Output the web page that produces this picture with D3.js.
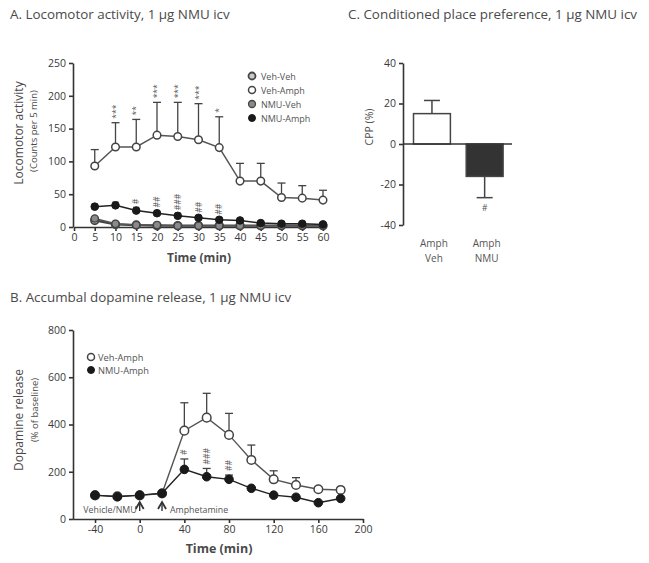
<!DOCTYPE html>
<html><head><meta charset="utf-8">
<script src="https://cdn.jsdelivr.net/npm/d3@7"></script>
<style>
body{margin:0;background:#fff;}
text{font-family:"Open Sans","Liberation Sans",Arial,sans-serif;}
.sig{opacity:0.99;}
</style></head>
<body><svg id="c" width="649" height="563"></svg>
<script>
// ---------- Panel A data ----------
const timeA = [5,10,15,20,25,30,35,40,45,50,55,60];
const vehVeh  = [10,4,3,2,2,2,2,2,2,2,2,2];
const vehAmph = [93,122,122,140,138,133,121,70,70,45,44,41];
const vehAmphErr = [25,37,42,50,52,55,47,27,27,22,19,15];
const nmuVeh  = [13,5,3,3,2,2,2,2,2,2,2,2];
const nmuAmph = [31,33,25,21,17,14,11,10,6,5,5,4];
const nmuAmphErr = [4,5,5,4,4,3,3,3,2,2,2,2];
const starsA = [null,"***","**","***","***","***","*",null,null,null,null,null];
const hashA  = [null,null,"#","##","###","##","##",null,null,null,null,null];
const ticksAx = [0,5,10,15,20,25,30,35,40,45,50,55,60];
const ticksAy = [0,50,100,150,200,250];
const legendA = ["Veh-Veh","Veh-Amph","NMU-Veh","NMU-Amph"];

// ---------- Panel B data ----------
const timeB = [-40,-20,0,20,40,60,80,100,120,140,160,180];
const vehAmphB = [100,96,100,108,374,429,356,250,168,144,126,123];
const vehAmphBErr = [0,0,0,0,118,103,91,63,36,31,10,8];
const nmuAmphB = [101,94,101,109,210,179,168,130,101,92,69,87];
const nmuAmphBErr = [0,0,0,0,44,35,18,0,0,0,0,0];
const hashB = [null,null,null,null,"#","###","##",null,null,null,null,null];
const ticksBx = [-40,0,40,80,120,160,200];
const ticksBy = [0,200,400,600,800];
const legendB = ["Veh-Amph","NMU-Amph"];

// ---------- Panel C data ----------
const cppGroups = ["Veh","NMU"];
const cppLabels = [["Amph","Veh"],["Amph","NMU"]];
const cppValues = [15,-16];
const cppErr = [6.5,10.5];
const cppSig = [null,"#"];
const ticksCy = [-40,-20,0,20,40];

const svg = d3.select("#c");
const TXT = "#4a4a4a", AX = "#333";
const fmt = d => String(d);

function styleAxis(g){
  g.selectAll("path,line").attr("stroke",AX).attr("stroke-width",1.6);
  g.selectAll("text").attr("fill","#3a3a3a").attr("font-size",10.5).attr("font-family","'Liberation Sans',Arial,sans-serif");
}
function marker(g,x,y,type,r){
  if(type==="open") g.append("circle").attr("cx",x).attr("cy",y).attr("r",r).attr("fill","#fff").attr("stroke","#444").attr("stroke-width",1.5);
  else if(type==="filled") g.append("circle").attr("cx",x).attr("cy",y).attr("r",r).attr("fill","#1a1a1a").attr("stroke","#1a1a1a");
  else if(type==="gray") g.append("circle").attr("cx",x).attr("cy",y).attr("r",r).attr("fill","#8a8a8a").attr("stroke","#444").attr("stroke-width",1.3);
  else if(type==="vv") g.append("circle").attr("cx",x).attr("cy",y).attr("r",r).attr("fill","#c8c8c8").attr("stroke","#444").attr("stroke-width",1.8);
}
function errUp(g,x,y0,y1,cw){
  g.append("line").attr("x1",x).attr("x2",x).attr("y1",y0).attr("y2",y1).attr("stroke","#444").attr("stroke-width",1.3);
  g.append("line").attr("x1",x-cw).attr("x2",x+cw).attr("y1",y1).attr("y2",y1).attr("stroke","#444").attr("stroke-width",1.3);
}
function rotText(g,x,y,t){
  g.append("text").attr("class","sig").attr("transform",`translate(${x+3},${y}) rotate(-90)`).attr("font-size",8.5).attr("fill","#555").attr("text-anchor","start").text(t);
}

// ================= Panel A =================
const A = svg.append("g");
A.append("text").attr("x",10).attr("y",19).attr("font-size",13.4).attr("fill",TXT).text("A. Locomotor activity, 1 µg NMU icv");
const xA = d3.scaleLinear().domain([0,60]).range([74,323]);
const yA = d3.scaleLinear().domain([0,250]).range([227,63]);
A.append("g").attr("transform","translate(73,0)").call(d3.axisLeft(yA).tickValues(ticksAy).tickFormat(fmt).tickSize(4).tickSizeOuter(0)).call(styleAxis);
A.append("g").attr("transform","translate(0,227)").call(d3.axisBottom(xA).tickValues(ticksAx).tickFormat(fmt).tickSize(4).tickSizeOuter(0)).call(styleAxis);
A.append("text").attr("transform","translate(23,133) rotate(-90)").attr("text-anchor","middle").attr("font-size",12).attr("fill",TXT).text("Locomotor activity");
A.append("text").attr("transform","translate(37,131) rotate(-90)").attr("text-anchor","middle").attr("font-size",9.5).attr("fill",TXT).text("(Counts per 5 min)");
A.append("text").attr("x",199).attr("y",262).attr("text-anchor","middle").attr("font-size",12).attr("font-weight","bold").attr("fill",TXT).attr("font-family","'Liberation Sans',Arial,sans-serif").text("Time (min)");

const lineA = d3.line().x((d,i)=>xA(timeA[i])).y(d=>yA(d));
timeA.forEach((t,i)=>{ errUp(A,xA(t),yA(vehAmph[i]),yA(vehAmph[i]+vehAmphErr[i]),4); });
timeA.forEach((t,i)=>{ errUp(A,xA(t),yA(nmuAmph[i]),yA(nmuAmph[i]+nmuAmphErr[i]),3); });
A.append("path").attr("d",lineA(vehVeh)).attr("fill","none").attr("stroke","#444").attr("stroke-width",2.2);
A.append("path").attr("d",lineA(nmuVeh)).attr("fill","none").attr("stroke","#555").attr("stroke-width",1.5);
A.append("path").attr("d",lineA(vehAmph)).attr("fill","none").attr("stroke","#555").attr("stroke-width",1.5);
A.append("path").attr("d",lineA(nmuAmph)).attr("fill","none").attr("stroke","#222").attr("stroke-width",1.5);
timeA.forEach((t,i)=>marker(A,xA(t),yA(vehVeh[i]),"vv",3.8));
timeA.forEach((t,i)=>marker(A,xA(t),yA(nmuVeh[i]),"gray",3.6));
timeA.forEach((t,i)=>marker(A,xA(t),yA(vehAmph[i]),"open",3.8));
timeA.forEach((t,i)=>marker(A,xA(t),yA(nmuAmph[i]),"filled",3.8));
timeA.forEach((t,i)=>{ if(starsA[i]) rotText(A,xA(t),yA(vehAmph[i]+vehAmphErr[i])-4,starsA[i]); });
timeA.forEach((t,i)=>{ if(hashA[i]) rotText(A,xA(t),yA(nmuAmph[i]+nmuAmphErr[i])-3,hashA[i]); });
const legTypesA = ["vv","open","gray","filled"];
legendA.forEach((l,i)=>{
  const y = 76 + i*14;
  marker(A,252,y,legTypesA[i],3.5);
  A.append("text").attr("x",261).attr("y",y+3.5).attr("font-size",9).attr("fill","#555").text(l);
});

// ================= Panel B =================
const B = svg.append("g");
B.append("text").attr("x",10).attr("y",302).attr("font-size",13.4).attr("fill",TXT).text("B. Accumbal dopamine release, 1 µg NMU icv");
const xB = d3.scaleLinear().domain([-60,200]).range([72.7,363]);
const yB = d3.scaleLinear().domain([0,800]).range([519,330]);
B.append("g").attr("transform","translate(73,0)").call(d3.axisLeft(yB).tickValues(ticksBy).tickFormat(fmt).tickSize(4).tickSizeOuter(0)).call(styleAxis);
B.append("g").attr("transform","translate(0,519)").call(d3.axisBottom(xB).tickValues(ticksBx).tickFormat(fmt).tickSize(4).tickSizeOuter(0)).call(styleAxis);
B.append("text").attr("transform","translate(23,420) rotate(-90)").attr("text-anchor","middle").attr("font-size",12).attr("fill",TXT).text("Dopamine release");
B.append("text").attr("transform","translate(38,410) rotate(-90)").attr("text-anchor","middle").attr("font-size",9.5).attr("fill",TXT).text("(% of baseline)");
B.append("text").attr("x",219).attr("y",553).attr("text-anchor","middle").attr("font-size",12.5).attr("font-weight","bold").attr("fill",TXT).attr("font-family","'Liberation Sans',Arial,sans-serif").text("Time (min)");

const lineB = d3.line().x((d,i)=>xB(timeB[i])).y(d=>yB(d));
timeB.forEach((t,i)=>{ if(vehAmphBErr[i]>0) errUp(B,xB(t),yB(vehAmphB[i]),yB(vehAmphB[i]+vehAmphBErr[i]),4); });
timeB.forEach((t,i)=>{ if(nmuAmphBErr[i]>0) errUp(B,xB(t),yB(nmuAmphB[i]),yB(nmuAmphB[i]+nmuAmphBErr[i]),4); });
B.append("path").attr("d",lineB(vehAmphB)).attr("fill","none").attr("stroke","#555").attr("stroke-width",1.4);
B.append("path").attr("d",lineB(nmuAmphB)).attr("fill","none").attr("stroke","#222").attr("stroke-width",1.4);
timeB.forEach((t,i)=>marker(B,xB(t),yB(vehAmphB[i]),"open",4.3));
timeB.forEach((t,i)=>marker(B,xB(t),yB(nmuAmphB[i]),"filled",4.3));
timeB.forEach((t,i)=>{ if(hashB[i]) rotText(B,xB(t),yB(nmuAmphB[i]+nmuAmphBErr[i])-4,hashB[i]); });
[0,20].forEach(t=>{
  const x = xB(t), y = 502;
  B.append("path").attr("d",`M${x-4},${y+7} L${x},${y} L${x+4},${y+7}`).attr("fill","none").attr("stroke","#333").attr("stroke-width",1.8);
  B.append("line").attr("x1",x).attr("x2",x).attr("y1",y).attr("y2",y+9).attr("stroke","#333").attr("stroke-width",1.4);
});
B.append("text").attr("x",xB(0)-3).attr("y",513).attr("text-anchor","end").attr("font-size",8.8).attr("fill","#555").text("Vehicle/NMU");
B.append("text").attr("x",xB(20)+8).attr("y",513).attr("font-size",8.8).attr("fill","#555").text("Amphetamine");
legendB.forEach((l,i)=>{
  const y = 357 + i*13;
  marker(B,91,y,i===0?"open":"filled",3.5);
  B.append("text").attr("x",98).attr("y",y+3.5).attr("font-size",9.3).attr("fill","#555").text(l);
});

// ================= Panel C =================
const C = svg.append("g");
C.append("text").attr("x",348).attr("y",19).attr("font-size",13.4).attr("fill",TXT).text("C. Conditioned place preference, 1 µg NMU icv");
const yC = d3.scaleLinear().domain([-40,40]).range([225,63]);
const xC = d3.scaleBand().domain(cppGroups).range([405.6,511]).paddingInner(0.3).paddingOuter(0.15);
C.append("g").attr("transform","translate(403,0)").call(d3.axisLeft(yC).tickValues(ticksCy).tickFormat(fmt).tickSize(4).tickSizeOuter(0)).call(styleAxis);
C.append("text").attr("transform","translate(373,127) rotate(-90)").attr("text-anchor","middle").attr("font-size",10.5).attr("fill",TXT).text("CPP (%)");
cppGroups.forEach((g,i)=>{
  const x0 = xC(g), w = xC.bandwidth(), cx = x0 + w/2;
  const v = cppValues[i], e = cppErr[i];
  const ye = yC(v + Math.sign(v)*e);
  C.append("line").attr("x1",cx).attr("x2",cx).attr("y1",yC(v)).attr("y2",ye).attr("stroke","#444").attr("stroke-width",1.5);
  C.append("line").attr("x1",cx-8).attr("x2",cx+8).attr("y1",ye).attr("y2",ye).attr("stroke","#444").attr("stroke-width",1.5);
  C.append("rect").attr("x",x0).attr("y",Math.min(yC(v),yC(0))).attr("width",w).attr("height",Math.abs(yC(v)-yC(0)))
    .attr("fill",i===0?"#fff":"#333").attr("stroke","#444").attr("stroke-width",1.5);
  if(cppSig[i]) C.append("text").attr("x",cx).attr("y",ye+13).attr("text-anchor","middle").attr("font-size",8.5).attr("fill","#555").text(cppSig[i]);
  cppLabels[i].forEach((l,j)=>{
    C.append("text").attr("x",cx+2).attr("y",247+j*15).attr("text-anchor","middle").attr("font-size",10).attr("fill","#555").text(l);
  });
});
const x0line = d3.scaleLinear().domain([0,1]).range([403,512]);
C.append("line").attr("x1",x0line(0)).attr("x2",x0line(1)).attr("y1",yC(0)).attr("y2",yC(0)).attr("stroke",AX).attr("stroke-width",1.6);
</script></body></html>
